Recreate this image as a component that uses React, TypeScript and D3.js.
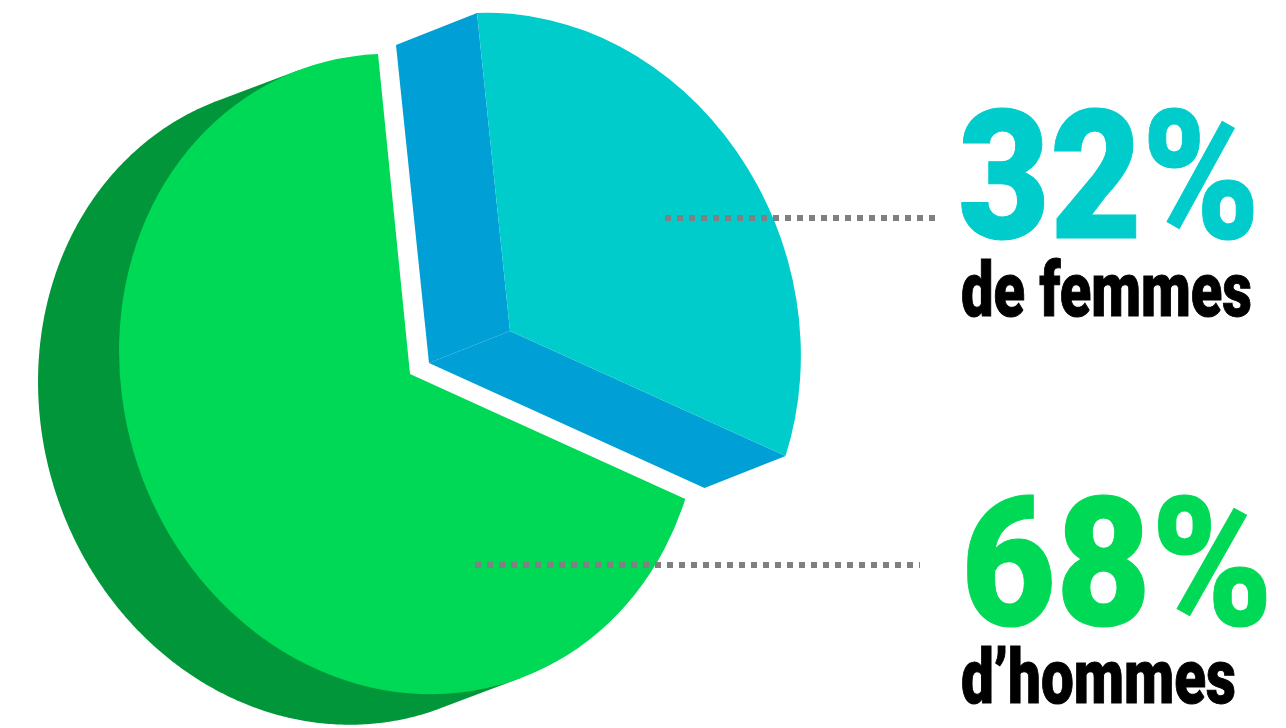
import * as d3 from "d3"

const W = 1286, H = 728

const categories = ["de femmes", "d’hommes"]
const shares = [32, 68]
const shareLabels = ["32%", "68%"]

const FACE = ["#00CCCC", "#00D955"]
const SIDE = ["#009FD6", "#009639"]
const DOTS = "#808080"
const FONT = "Roboto, sans-serif"

// pie is drawn as a flat disc then skewed, these are where its axes land on screen
const R = 300
const AX = [[289, -11.5], [289.2, -12.5]]
const AY = [[33, 318], [32, 320]]
const DEPTH = [[-81, 32], [-81, 30.5]]
const centers = [[510, 331], [410, 374]]
const tilt = (i: number) =>
  `matrix(${AX[i][0] / R} ${AX[i][1] / R} ${AY[i][0] / R} ${AY[i][1] / R} ${centers[i][0]} ${centers[i][1]})`

const slices = d3.pie<number>().sort(null)(shares)
const arc = d3.arc<d3.PieArcDatum<number>>().innerRadius(0).outerRadius(R)
const line = d3.line()

// point of slice i's skewed disc at pie angle a (0 = north, clockwise), pushed back by d depths
const at = (i: number, a: number, k = 1, d = 0): [number, number] => [
  centers[i][0] + k * (Math.sin(a) * AX[i][0] - Math.cos(a) * AY[i][0]) + d * DEPTH[i][0],
  centers[i][1] + k * (Math.sin(a) * AX[i][1] - Math.cos(a) * AY[i][1]) + d * DEPTH[i][1],
]

function femaleSides() {
  const s = slices[0]
  const wall = (a: number) => [at(0, a), at(0, a, 1, 1), at(0, 0, 0, 1), at(0, 0, 0)] as [number, number][]
  return [wall(s.startAngle), wall(s.endAngle)].map(p => line(p) + "Z")
}

function maleSide() {
  // silhouette of the extrusion runs between the two tangents parallel to DEPTH
  const cross = (u: number[], v: number[]) => u[0] * v[1] - u[1] * v[0]
  const a0 = Math.atan2(-cross(AX[1], DEPTH[1]), cross(AY[1], DEPTH[1])) + Math.PI
  const sweep = d3.range(0, 361).map(i => a0 + (i / 360) * Math.PI)
  const pts = [at(1, a0), ...sweep.map(a => at(1, a, 1, 1)), at(1, a0 + Math.PI)]
  return line(pts) + "Z"
}

const leaders = [
  { x1: 665, x2: 935, y: 218 },
  { x1: 475, x2: 920, y: 565 },
]
const bigText = [
  { x: 958, y: 238, len: 302 },
  { x: 961, y: 625, len: 312 },
]
const smallText = [
  { x: 961, y: 316, len: 291 },
  { x: 961, y: 703, len: 275 },
]

// squeeze a label to its width, the original face is condensed and none is installed
function fit(el: SVGTextElement | null, p: { x: number; y: number; len: number }) {
  if (!el) return
  const k = p.len / el.getComputedTextLength()
  el.setAttribute("transform", `translate(${p.x} ${p.y}) scale(${k} 1)`)
}

export default function App() {
  return (
    <svg width={W} height={H} viewBox={`0 0 ${W} ${H}`} style={{ position: "fixed", left: 0, top: 0, display: "block", background: "#fff" }}>
      <path d={maleSide()} fill={SIDE[1]} />
      <path transform={tilt(1)} d={arc(slices[1])!} fill={FACE[1]} />
      {femaleSides().map((d, i) => <path key={i} d={d} fill={SIDE[0]} />)}
      <path transform={tilt(0)} d={arc(slices[0])!} fill={FACE[0]} />
      {leaders.map((l, i) => (
        <line key={i} x1={l.x1} x2={l.x2} y1={l.y} y2={l.y} stroke={DOTS} strokeWidth={6} strokeDasharray="6 6" />
      ))}
      {shareLabels.map((t, i) => (
        <text key={t} ref={el => fit(el, bigText[i])} fontFamily={FONT} fontWeight={900} fontSize={180}
          fill={FACE[i]} stroke={FACE[i]} strokeWidth={1}>{t}</text>
      ))}
      {categories.map((t, i) => (
        <text key={t} ref={el => fit(el, smallText[i])} fontFamily={FONT} fontWeight={900} fontSize={76}
          fill="#000" stroke="#000" strokeWidth={1}>{t}</text>
      ))}
    </svg>
  )
}
